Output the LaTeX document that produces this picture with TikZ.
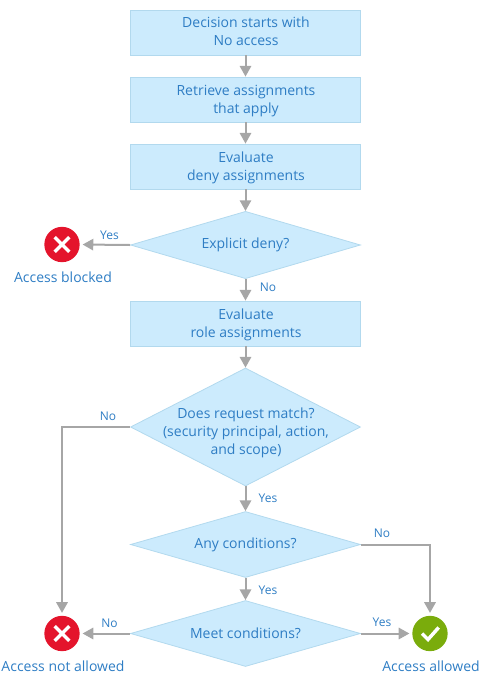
\documentclass[tikz,border=0pt]{standalone}
\usepackage{fontspec}
\setmainfont{Open Sans}
\usetikzlibrary{arrows.meta,shapes.geometric}
\definecolor{boxfill}{RGB}{204,235,253}
\definecolor{boxline}{RGB}{178,217,238}
\definecolor{boxtext}{RGB}{46,125,196}
\definecolor{arrowgray}{RGB}{166,166,166}
\definecolor{denyred}{RGB}{228,20,44}
\definecolor{allowgreen}{RGB}{122,172,12}
\tikzset{
  stepbox/.style={draw=boxline,fill=boxfill,line width=0.6pt,minimum width=172.5pt,minimum height=33.75pt,inner sep=0pt},
  decision/.style={draw=boxline,fill=boxfill,line width=0.6pt,shape=diamond,inner sep=0pt,minimum width=172.5pt},
  caption/.style={text=boxtext,align=center,inner sep=0pt,font=\fontsize{10.5}{13.5}\selectfont},
  branch/.style={text=boxtext,inner sep=0pt,font=\fontsize{9}{10}\selectfont},
  flow/.style={draw=arrowgray,line width=1.5pt,-{Triangle[width=8.5pt,length=8pt]}},
  denied/.style={circle,fill=denyred,minimum size=26.5pt,inner sep=0pt,
    path picture={\draw[white,line width=2.6pt] ([shift={(-5.5pt,-5.5pt)}]path picture bounding box.center) -- ([shift={(5.5pt,5.5pt)}]path picture bounding box.center) ([shift={(-5.5pt,5.5pt)}]path picture bounding box.center) -- ([shift={(5.5pt,-5.5pt)}]path picture bounding box.center);}},
  allowed/.style={circle,fill=allowgreen,minimum size=26.5pt,inner sep=0pt,
    path picture={\draw[white,line width=2.6pt] ([shift={(-6pt,0pt)}]path picture bounding box.center) -- ([shift={(-1.5pt,-4.5pt)}]path picture bounding box.center) -- ([shift={(6.5pt,4.5pt)}]path picture bounding box.center);}}
}
\begin{document}
\begin{tikzpicture}[x=0.75pt,y=0.75pt,yscale=-1,xscale=1]
\useasboundingbox (0,0) rectangle (489,682);
% boxes
\node[stepbox] (start) at (245.5,32.5) {};
\node[stepbox] (retrieve) at (245.5,99.5) {};
\node[stepbox] (evaldeny) at (245.5,166.5) {};
\node[stepbox] (evalrole) at (245.5,323.5) {};
\node[caption] (starttext) at (246,31.5) {Decision starts with\\No access};
\node[caption] (retrievetext) at (246,101) {Retrieve assignments\\that apply};
\node[caption] (evaldenytext) at (246,167.5) {Evaluate\\deny assignments};
\node[caption] (evalroletext) at (246,325) {Evaluate\\role assignments};
% decisions
\node[decision,minimum height=50.5pt] (deny) at (245.5,245) {};
\node[caption] (denytext) at (deny) {Explicit deny?};
\node[decision,minimum height=88.5pt] (match) at (245.5,427) {};
\node[caption] (matchtext) at (246,432.5) {Does request match?\\(security principal, action,\\and scope)};
\node[decision,minimum height=49.5pt] (anycond) at (245.5,544.5) {};
\node[caption] (anytext) at (anycond) {Any conditions?};
\node[decision,minimum height=49.5pt] (meetcond) at (245.5,633.5) {};
\node[caption] (meettext) at (meetcond) {Meet conditions?};
% results
\node[denied] (blocked) at (62,244.5) {};
\node[denied] (notallowed) at (62,633.5) {};
\node[allowed] (granted) at (430,633.5) {};
\node[caption] (blockedtext) at (63,277) {Access blocked};
\node[caption] (notallowedtext) at (63,666) {Access not allowed};
\node[caption] (grantedtext) at (431,666) {Access allowed};
% arrows
\draw[flow] (start) -- (retrieve);
\draw[flow] (retrieve) -- (evaldeny);
\draw[flow] (evaldeny) -- (deny);
\draw[flow] (deny) -- (evalrole);
\draw[flow] (evalrole) -- (match);
\draw[flow] (match) -- (anycond);
\draw[flow] (anycond) -- (meetcond);
\draw[flow,shorten >=2pt] (deny.west) -- (blocked.east);
\draw[flow,shorten >=2pt] (meetcond.west) -- (notallowed.east);
\draw[flow,shorten >=2pt] (meetcond.east) -- (granted.west);
\draw[flow,shorten >=2pt] (match.west) -| (notallowed.north);
\draw[flow,shorten >=2pt] (anycond.east) -| (granted.north);
% labels
\node[branch] (yesdeny) at (109.5,235) {Yes};
\node[branch] (nodeny) at (268,287) {No};
\node[branch] (nomatch) at (108,416) {No};
\node[branch] (yesmatch) at (268,498) {Yes};
\node[branch] (noany) at (382,533) {No};
\node[branch] (yesany) at (268,590) {Yes};
\node[branch] (nomeet) at (109.5,623.5) {No};
\node[branch] (yesmeet) at (382,622) {Yes};
\end{tikzpicture}
\end{document}
